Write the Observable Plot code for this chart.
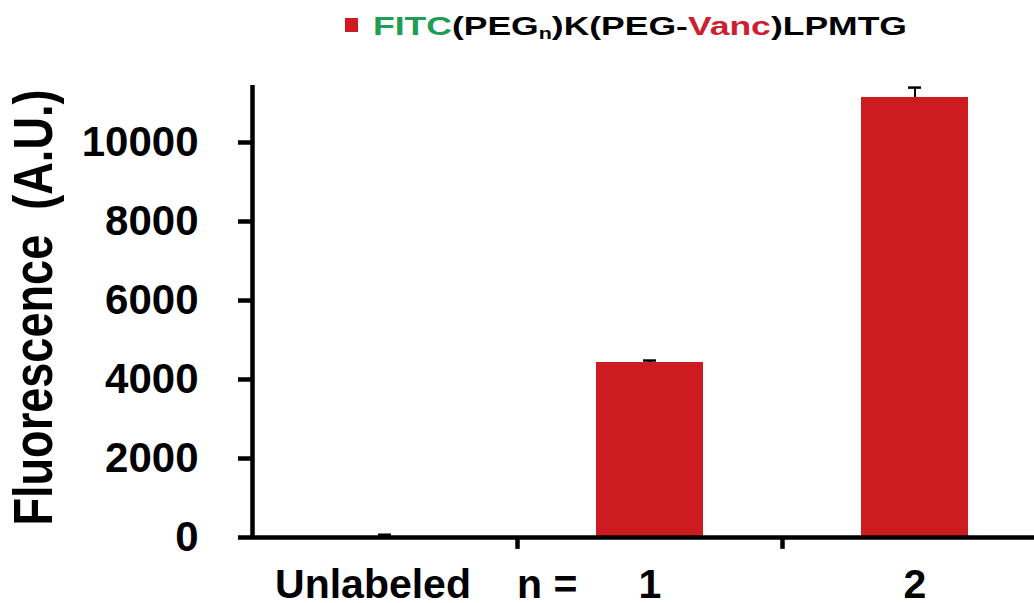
<!DOCTYPE html>
<html>
<head>
<meta charset="utf-8">
<script src="https://cdn.jsdelivr.net/npm/d3@7"></script>
<script src="https://cdn.jsdelivr.net/npm/@observablehq/plot@0.6"></script>
<style>
  body { margin: 0; background: #fff; font-family: "Liberation Sans", Arial, sans-serif; }
  #wrap { width: 1034px; }
  #legend { height: 60px; box-sizing: border-box; padding-top: 13px; padding-left: 345px; font: bold 26.5px/1 "Liberation Sans", Arial, sans-serif; color: #000; white-space: nowrap; }
  #legend .sw { display: inline-block; width: 13px; height: 14px; background: #cc1b21; margin-right: 15px; vertical-align: 3px; }
  #legend .txt { display: inline-block; transform: scaleX(1.34); transform-origin: 0 50%; }
  #legend .g { color: #1f9d55; }
  #legend .r { color: #cf1f2e; }
  #legend sub { font-size: 16px; vertical-align: -4px; line-height: 0; }
</style>
</head>
<body>
<div id="wrap">
  <div id="legend"><span class="sw"></span><span class="txt"><span class="g">FITC</span>(PEG<sub>n</sub>)K(PEG-<span class="r">Vanc</span>)LPMTG</span></div>
  <div id="chart"></div>
</div>
<script>
const categories = ["Unlabeled", "1", "2"];
const values = [20, 4430, 11140];
const errors = [50, 50, 250];
const yTicks = [0, 2000, 4000, 6000, 8000, 10000];
const yLabel = "Fluorescence  (A.U.)";
const nLabel = "n =";

const data = categories.map((c, i) => ({cat: c, value: values[i], err: errors[i]}));
const FONT = "Liberation Sans, Arial, sans-serif";
const xRange = [252, 1047];
const step = (xRange[1] - xRange[0]) / categories.length;
const AXW = 4.5;

const plot = Plot.plot({
  width: 1034,
  height: 543,
  marginTop: 25,
  marginBottom: 66,
  marginLeft: 252,
  marginRight: 0,
  style: {fontFamily: FONT, background: "#fff", color: "#000"},
  x: {domain: categories, range: xRange, paddingInner: 0.596, paddingOuter: 0.298, align: 0.5},
  y: {domain: [0, 11443]},
  marks: [
    Plot.barY(data, {x: "cat", y: "value", fill: "#cc1b21"}),
    Plot.ruleX(data, {x: "cat", y1: "value", y2: d => d.value + d.err, stroke: "#000", strokeWidth: 2}),
    Plot.tickY(data, {x: "cat", y: d => d.value + d.err, stroke: "#000", strokeWidth: 2.5, insetLeft: 47, insetRight: 47}),
    // y axis line
    Plot.ruleX([categories[0]], {x: d => d, dx: -step / 2, y1: 0, y2: 11443, stroke: "#000", strokeWidth: AXW}),
    // x baseline
    Plot.ruleY([0], {stroke: "#000", strokeWidth: AXW}),
    // category separator ticks below the baseline
    Plot.ruleX(categories.slice(1), {x: d => d, dx: -step / 2, y1: 0, y2: -300, stroke: "#000", strokeWidth: AXW}),
    Plot.axisY({ticks: yTicks, tickFormat: d3.format("d"), tickSize: 14, tickPadding: 40, fontSize: 42, fontWeight: "bold", label: null, strokeWidth: AXW}),
    Plot.axisX({ticks: [], label: null, tickSize: 0}),
    Plot.text(categories.slice(1), {x: d => d, y: () => 0, dy: 47, text: d => d, fontSize: 41, fontWeight: "bold", lineAnchor: "middle"}),
    Plot.text([categories[0]], {x: d => d, y: () => 0, dy: 47, dx: -12, text: d => d, fontSize: 41, fontWeight: "bold", lineAnchor: "middle"}),
    Plot.text([nLabel], {x: () => categories[1], y: () => 0, dy: 47, dx: -133, text: d => d, textAnchor: "start", fontSize: 41, fontWeight: "bold", lineAnchor: "middle"}),
    Plot.text([yLabel], {frameAnchor: "left", dx: -218, dy: -4, text: d => d, rotate: -90, textAnchor: "middle", fontSize: 56, fontWeight: "bold", lineAnchor: "middle", className: "ylab"})
  ]
});
document.getElementById("chart").appendChild(plot);
// the original figure's axis title is drawn tall and narrow: fit it to its length
plot.querySelectorAll(".ylab text").forEach(t => {
  t.setAttribute("textLength", 436);
  t.setAttribute("lengthAdjust", "spacingAndGlyphs");
  t.setAttribute("xml:space", "preserve");
  t.style.whiteSpace = "pre";
});
</script>
</body>
</html>
